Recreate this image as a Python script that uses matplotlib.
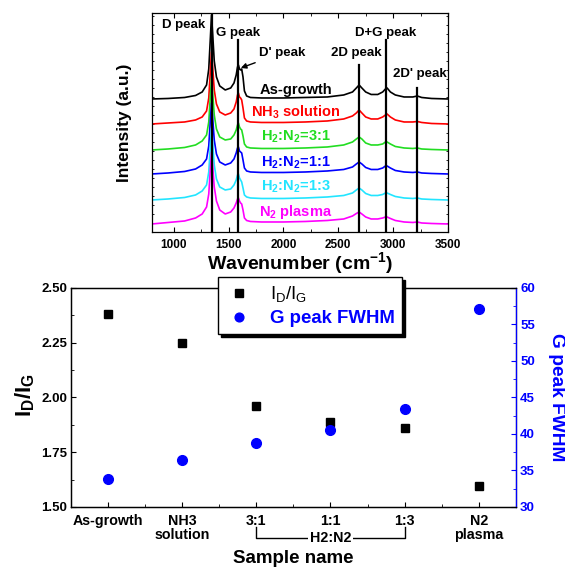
import numpy as np
import matplotlib
matplotlib.use('Agg')
import matplotlib.pyplot as plt
from matplotlib.ticker import MultipleLocator, AutoMinorLocator
import matplotlib.transforms as mtransforms

plt.rcParams['font.family'] = ['Liberation Sans', 'DejaVu Sans']
plt.rcParams['font.weight'] = 'bold'
plt.rcParams['axes.labelweight'] = 'bold'
plt.rcParams['mathtext.default'] = 'regular'
plt.rcParams['axes.linewidth'] = 0.9

# ---------------- Raman spectra (heights above each baseline) ----------------
wn = [800, 950, 1100, 1200, 1260, 1300, 1320, 1335, 1345, 1355,
      1370, 1390, 1420, 1470, 1520, 1550, 1570, 1582, 1590, 1600,
      1610, 1620, 1632, 1645, 1665, 1700, 1800, 2000, 2200, 2400,
      2550, 2630, 2665, 2690, 2715, 2750, 2800, 2860, 2905, 2930,
      2945, 2975, 3020, 3100, 3180, 3220, 3260, 3350, 3500]

as_growth = [0, 0.5, 1.5, 3.5, 7, 14, 30, 62, 84, 66,
             38, 22, 13, 9, 11, 16, 24, 32, 34, 30,
             29, 30, 22, 8, 3, 1.5, 1, 1, 1.5, 2,
             4, 7, 11, 14, 11, 7, 4.5, 4.5, 7, 10,
             11, 7, 4, 2, 2, 3, 1.5, 0.5, 0]
nh3 = [0, 1, 2, 4, 7, 13, 26, 54, 72, 58,
       34, 20, 12, 9, 11, 15, 22, 29, 31, 27,
       26, 24, 16, 6, 3, 2, 1.5, 1.5, 2, 3,
       5, 8, 11, 14, 11, 7, 5, 5, 7, 9,
       10, 7, 4, 2, 2, 2.5, 1.5, 0.5, 0]
h2n2_31 = [0, 1, 2.5, 5, 9, 15, 28, 55, 72, 58,
           35, 21, 13, 10, 11, 15, 20, 25, 27, 23,
           21, 20, 14, 6, 3, 2, 1.5, 1.5, 2, 3,
           5, 8, 11, 13, 11, 7, 5, 5, 6, 8,
           8, 6, 3.5, 2, 1.5, 2, 1, 0.5, 0]
h2n2_11 = [0, 1, 2.5, 5, 9, 15, 28, 55, 71, 57,
           34, 20, 12, 9, 11, 15, 21, 26, 27, 23,
           22, 21, 14, 6, 3, 2, 1.5, 1.5, 2, 3,
           4.5, 7, 10, 12, 10, 6.5, 4.5, 4.5, 6, 8,
           8, 6, 3.5, 2, 1.5, 2, 1, 0.5, 0]
h2n2_13 = [0, 1, 2.5, 5, 9, 15, 28, 55, 72, 58,
           35, 21, 13, 10, 11, 15, 20, 25, 26, 22,
           20, 18, 12, 5, 3, 2, 1.5, 1.5, 2, 3,
           4.5, 7, 10, 12, 10, 6.5, 4.5, 4.5, 5.5, 7,
           7, 5.5, 3.5, 2, 1.5, 2, 1, 0.5, 0]
n2_plasma = [0, 1.5, 3, 6, 10, 17, 30, 56, 72, 59,
             37, 23, 14, 10, 12, 16, 21, 25, 26, 23,
             21, 20, 14, 6, 3.5, 2.5, 2, 2, 2.5, 3.5,
             5, 8, 10.5, 12, 10, 7, 5, 5, 6, 7,
             7, 5.5, 3.5, 2, 1.5, 2, 1, 0.5, 0]

spectra = [as_growth, nh3, h2n2_31, h2n2_11, h2n2_13, n2_plasma]
spec_offsets = [133, 108, 82, 58, 32, 8]
spec_labels = ['As-growth', r'NH$_3$ solution', r'H$_2$:N$_2$=3:1',
               r'H$_2$:N$_2$=1:1', r'H$_2$:N$_2$=1:3', r'N$_2$ plasma']
spec_colors = ['black', '#ff0000', '#22dd22', '#0000ff', '#22e5ff', '#ff00ff']
label_y = [142, 120, 95, 69, 45, 20]

peak_pos = [1345, 1590, 2690, 2938, 3220]
peak_top = [219, 192, 167, 192, 144]
peak_names = ['D peak', 'G peak', '2D peak', 'D+G peak', "2D' peak"]
peak_text_xy = [(1090, 207), (1591, 199), (2668, 179), (2932, 199), (3245, 158)]

# ---------------- Sample comparison ----------------
samples = ['As-growth', 'NH3\nsolution', '3:1', '1:1', '1:3', 'N2\nplasma']
id_ig = [2.38, 2.25, 1.96, 1.89, 1.86, 1.595]
g_fwhm = [33.8, 36.4, 38.7, 40.6, 43.4, 57.1]

fig = plt.figure(figsize=(5.65, 5.69), dpi=100)

# ===== top: spectra =====
ax1 = fig.add_axes([0.2685, 0.5923, 0.5244, 0.3849])
for h, off, c in zip(spectra, spec_offsets, spec_colors):
    ax1.plot(wn, np.array(h) + off, color=c, lw=1.2, zorder=2)
for p, t in zip(peak_pos, peak_top):
    ax1.plot([p, p], [0, t], color='k', lw=1.6, zorder=3)
for name, (tx, ty) in zip(peak_names, peak_text_xy):
    ax1.text(tx, ty, name, ha='center', va='center', fontsize=9.5)
ax1.annotate("D' peak", xy=(1612, 164), xytext=(1985, 179), ha='center', va='center',
             fontsize=9.5, arrowprops=dict(arrowstyle='-|>', color='k', lw=1,
                                           mutation_scale=8, shrinkA=2, shrinkB=0))
for lab, c, ly in zip(spec_labels, spec_colors, label_y):
    ax1.text(2110, ly, lab, color=c, ha='center', va='center', fontsize=10.5)

ax1.set_xlim(800, 3500)
ax1.set_ylim(0, 219)
ax1.xaxis.set_major_locator(MultipleLocator(500))
ax1.xaxis.set_minor_locator(MultipleLocator(250))
ax1.set_yticks([])
ax1.yaxis.set_minor_locator(MultipleLocator(9))
ax1.tick_params(which='both', direction='in', top=True, right=True, labelsize=8.5, pad=5)
ax1.tick_params(which='major', length=3.5)
ax1.tick_params(axis='y', which='minor', length=1.5)
ax1.tick_params(axis='x', which='minor', length=2)
ax1.set_xlabel(r'Wavenumber (cm$^{-1}$)', fontsize=14)
ax1.xaxis.set_label_coords(0.5, -0.085)
ax1.set_ylabel('Intensity (a.u.)', fontsize=12.5)
ax1.yaxis.set_label_coords(-0.065, 0.5)

# ===== bottom: ID/IG and FWHM =====
ax2 = fig.add_axes([0.1251, 0.1090, 0.7881, 0.3849])
x = np.arange(1, len(samples) + 1)
h1, = ax2.plot(x, id_ig, 's', color='k', ms=6, ls='none', label=r'I$_D$/I$_G$')
ax3 = ax2.twinx()
h2, = ax3.plot(x, g_fwhm, 'o', color='#0000ff', ms=7, ls='none', label='G peak FWHM')

ax2.set_xlim(0.5, 6.5)
ax2.set_ylim(1.5, 2.5)
ax3.set_ylim(30, 60)
ax2.set_xticks(x)
ax2.set_xticklabels(samples, linespacing=1.05)
ax2.xaxis.set_minor_locator(MultipleLocator(0.5))
ax2.yaxis.set_major_locator(MultipleLocator(0.25))
ax2.yaxis.set_minor_locator(AutoMinorLocator(2))
ax2.yaxis.set_major_formatter('{x:.2f}')
ax2.tick_params(which='both', direction='in', labelsize=9.5)
ax2.tick_params(axis='x', which='both', pad=5, labelsize=10.3)
ax2.tick_params(axis='y', which='both', pad=2.5)
ax2.tick_params(which='major', length=3.5)
ax2.tick_params(which='minor', length=2)

ax3.yaxis.set_major_locator(MultipleLocator(5))
ax3.yaxis.set_minor_locator(AutoMinorLocator(2))
ax3.spines['right'].set_color('#0000ff')
ax3.tick_params(axis='y', which='both', direction='in', colors='#0000ff', labelsize=9.5, pad=3)
ax3.tick_params(which='major', length=3.5)
ax3.tick_params(which='minor', length=2)

ax2.set_ylabel(r'I$_D$/I$_G$', fontsize=16)
ax2.yaxis.set_label_coords(-0.076, 0.51)
ax3.set_ylabel('G peak FWHM', fontsize=13.8, color='#0000ff', rotation=270, va='bottom')
ax3.yaxis.set_label_coords(1.072, 0.5)
ax2.set_xlabel('Sample name', fontsize=13.5)
ax2.xaxis.set_label_coords(0.5, -0.195)

# bracket grouping the H2:N2 ratios
trans = mtransforms.blended_transform_factory(ax2.transData, ax2.transAxes)
ax2.plot([3, 3, 5, 5], [-0.091, -0.142, -0.142, -0.091], color='k', lw=1,
         transform=trans, clip_on=False)
ax2.text(4, -0.142, 'H2:N2', transform=trans, ha='center', va='center', fontsize=10.3,
         bbox=dict(facecolor='white', edgecolor='none', pad=1.5))

leg = fig.legend([h1, h2], [r'I$_D$/I$_G$', 'G peak FWHM'], loc='upper left',
                 bbox_to_anchor=(0.3858, 0.5132), borderaxespad=0, fontsize=13.4,
                 fancybox=False, edgecolor='k', framealpha=1,
                 shadow={'color': 'k', 'alpha': 1}, handletextpad=0.9,
                 borderpad=0.4, labelspacing=0.3, handlelength=1.5, markerscale=0.9)
leg.get_frame().set_linewidth(1.0)
leg.get_texts()[0].set_fontweight('normal')
leg.get_texts()[1].set_color('#0000ff')

fig.savefig('out.png', dpi=100)
